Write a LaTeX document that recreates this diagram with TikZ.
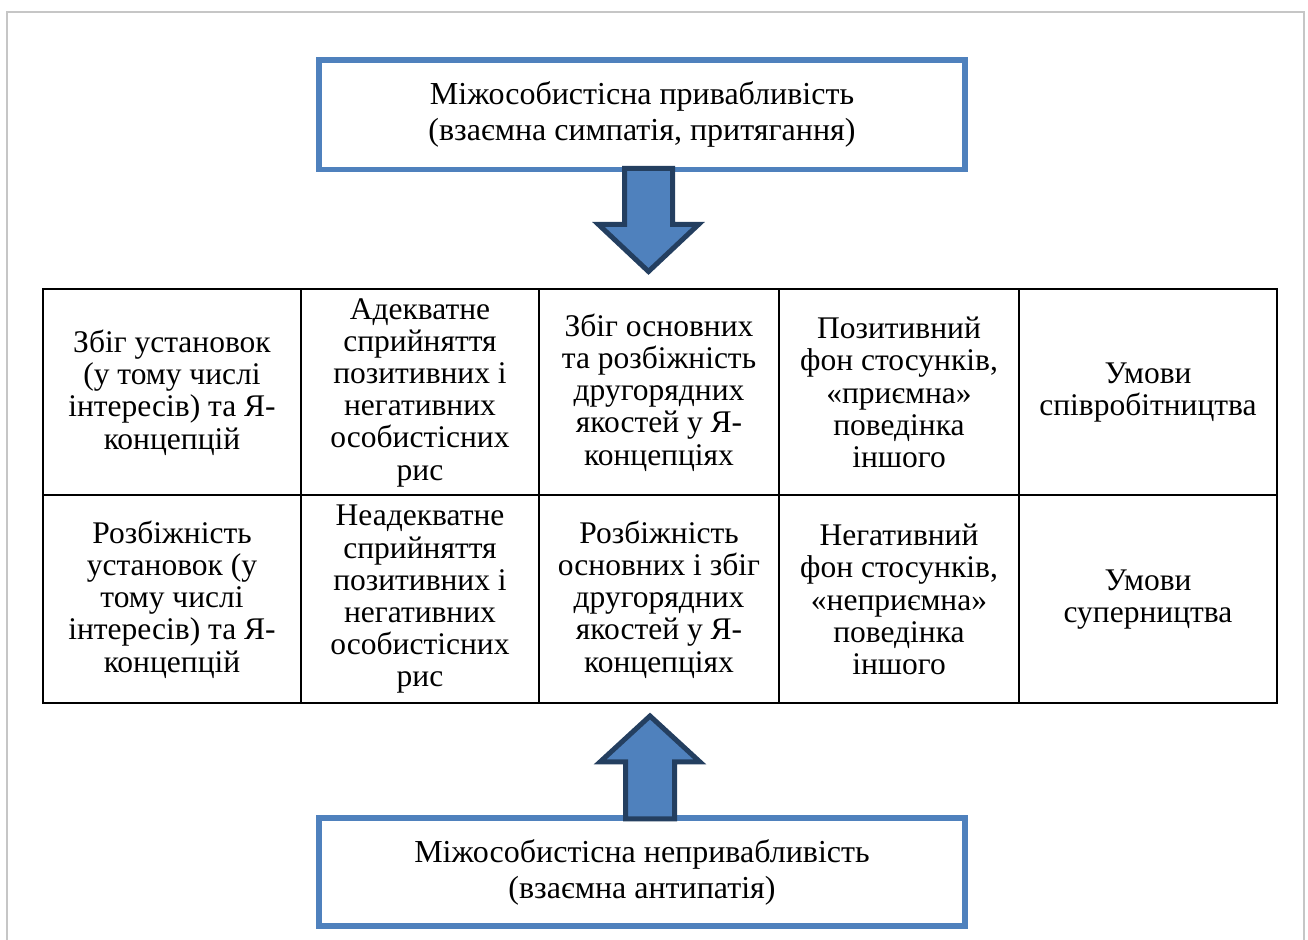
\documentclass[tikz,border=0pt]{standalone}
\usepackage{fontspec}
\setmainfont{Liberation Serif}
\usepackage{xcolor}
\usetikzlibrary{positioning}
\definecolor{boxblue}{HTML}{4F81BD}
\definecolor{arrowline}{HTML}{243F60}
\definecolor{framegray}{HTML}{C6C6C6}

\begin{document}
\begin{tikzpicture}
		[x=0.5pt, y=-0.5pt,
		box/.style={rectangle,draw=boxblue,line width=2.8pt,fill=white,outer sep=0pt,align=center,minimum width=323.25pt,font=\fontsize{16}{18}\selectfont},
		cell/.style={rectangle,draw=black,line width=1pt,outer sep=0pt,inner sep=2pt,align=center,font=\fontsize{15.75}{16.1}\selectfont},
		blockarrow/.style={draw=arrowline,fill=boxblue,line width=2.5pt,miter limit=10},
		frame/.style={draw=framegray,line width=1.2pt}]
		\useasboundingbox (0,0) rectangle (1308,940);
		\draw [frame] (7.2,940) -- (7.2,11.8) -- (1304,11.8) -- (1304,940);

		\node [box, minimum height=54.75pt] (attr) at (642,114.75) {Міжособистісна привабливість\\(взаємна симпатія, притягання)};
		\node [box, minimum height=54pt] (antip) at (642,872) {Міжособистісна непривабливість\\(взаємна антипатія)};

		\node [cell, minimum width=129pt, minimum height=103pt] (p1) at (172,392.5) {Збіг установок\\(у тому числі\\інтересів) та Я-\\концепцій};
		\node [cell, minimum width=119pt, minimum height=103pt] (p2) [right=0pt of p1] {Адекватне\\сприйняття\\позитивних і\\негативних\\особистісних\\рис};
		\node [cell, minimum width=120pt, minimum height=103pt] (p3) [right=0pt of p2] {Збіг основних\\та розбіжність\\другорядних\\якостей у Я-\\концепціях};
		\node [cell, minimum width=120pt, minimum height=103pt] (p4) [right=0pt of p3] {Позитивний\\фон стосунків,\\«приємна»\\поведінка\\іншого};
		\node [cell, minimum width=129pt, minimum height=103pt] (p5) [right=0pt of p4] {Умови\\співробітництва};

		\node [cell, minimum width=129pt, minimum height=104pt] (n1) [below=0pt of p1] {Розбіжність\\установок (у\\тому числі\\інтересів) та Я-\\концепцій};
		\node [cell, minimum width=119pt, minimum height=104pt] (n2) [right=0pt of n1] {Неадекватне\\сприйняття\\позитивних і\\негативних\\особистісних\\рис};
		\node [cell, minimum width=120pt, minimum height=104pt] (n3) [right=0pt of n2] {Розбіжність\\основних і збіг\\другорядних\\якостей у Я-\\концепціях};
		\node [cell, minimum width=120pt, minimum height=104pt] (n4) [right=0pt of n3] {Негативний\\фон стосунків,\\«неприємна»\\поведінка\\іншого};
		\node [cell, minimum width=129pt, minimum height=104pt] (n5) [right=0pt of n4] {Умови\\суперництва};

		\coordinate (dtop) at ([xshift=3.25pt]attr.south);
		\coordinate (ubot) at ([xshift=4pt]antip.north);
		\draw [blockarrow, shift={(dtop)}] (-24,-1) -- (24,-1) -- (24,55) -- (50,55) -- (0,102) -- (-50,55) -- (-24,55) -- cycle;
		\draw [blockarrow, shift={(ubot)}] (-24.5,1) -- (24.5,1) -- (24.5,-56) -- (50,-56) -- (0,-102) -- (-50,-56) -- (-24.5,-56) -- cycle;

	\end{tikzpicture}
\end{document}
